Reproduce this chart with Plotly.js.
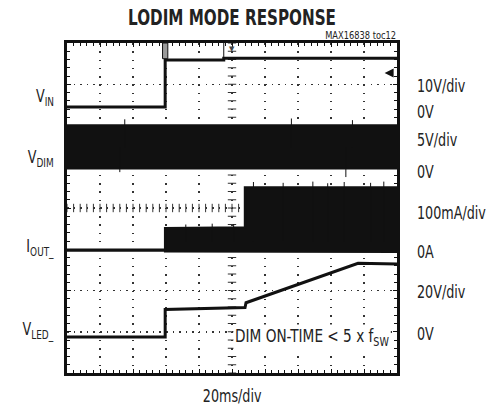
<!DOCTYPE html>
<html><head><meta charset="utf-8">
<script src="https://cdn.plot.ly/plotly-3.0.1.min.js"></script>
<style>
html,body{margin:0;padding:0;background:#fff}
#chart{width:489px;height:410px}
</style>
</head><body><div id="chart"></div>
<script>
// ---- data (time in ms, 20 ms/div) ----
const timeRange = [0, 200];
const trigT = 59.5;            // trigger instant (ms)
const trigLevelV = 9.2;        // VIN trigger level (V)

// VIN (V)
const vinT = [0, 59.5, 59.5, 95, 95, 200];
const vinV = [1.0, 1.0, 12.4, 12.4, 12.8, 12.8];

// VDIM switching band (V)
const vdimT = [0, 200];
const vdimHi = [5.15, 5.15];
const vdimLo = [-0.05, -0.05];
const vdimSpikeT = [35, 136, 173, 32, 169];
const vdimSpikeV = [5.9, 6.0, 5.8, -0.5, -1.1];

// IOUT_ (mA)
const ioutT = [0, 59.5, 59.5, 107.9, 107.9, 200];
const ioutHi = [1, 1, 53, 55, 152, 152];
const ioutLo = [-1, -1, -3, -3, -4, -4];
const ioutSpikeT = [72, 88, 101, 113, 131, 149, 158, 168, 184, 192];
const ioutSpikeV = [62, 64, 63, 165, 163, 166, 162, 165, 163, 166];

// VLED_ (V)
const vledT = [0, 59.5, 59.5, 107.9, 108.5, 176.4, 200];
const vledV = [0, 0, 13.3, 14.3, 16.6, 35.7, 35.4];

// ---- channel display settings (screen divisions) ----
const CH = {
  vin:  {zero: 6.35, perDiv: 10},
  vdim: {zero: 4.97, perDiv: 5},
  iout: {zero: 2.98, perDiv: 100},
  vled: {zero: 0.873, perDiv: 20}
};
const toDiv = (ch, arr) => arr.map(v => CH[ch].zero + v / CH[ch].perDiv);

function spikes(ch, ts, vs, baseV) {
  const x = [], y = [];
  ts.forEach((t, i) => { x.push(t, t, null); y.push(CH[ch].zero + baseV / CH[ch].perDiv, CH[ch].zero + vs[i] / CH[ch].perDiv, null); });
  return {x, y};
}

const ink = '#111';
const FONT = '"DejaVu Sans", sans-serif';

// crosshair tick marks (graticule)
const hx = [], hy = [];
for (let t = 0; t <= 200; t += 4) { hx.push(t); hy.push(4); }
const vx = [], vy = [];
for (let d = 0; d <= 8.001; d += 0.2) { vx.push(100); vy.push(+d.toFixed(2)); }

const traces = [];
traces.push({x: hx, y: hy, mode: 'markers', hoverinfo: 'skip',
  marker: {symbol: 'line-ns', size: 6, line: {width: 1, color: '#333'}}});
traces.push({x: vx, y: vy, mode: 'markers', hoverinfo: 'skip',
  marker: {symbol: 'line-ew', size: 6, line: {width: 1, color: '#333'}}});

// VDIM band
traces.push({x: vdimT, y: toDiv('vdim', vdimLo), mode: 'lines', line: {color: ink, width: 2}});
traces.push({x: vdimT, y: toDiv('vdim', vdimHi), mode: 'lines', line: {color: ink, width: 2.5}, fill: 'tonexty', fillcolor: ink});
const vs = spikes('vdim', vdimSpikeT, vdimSpikeV, 2.5);
traces.push({x: vs.x, y: vs.y, mode: 'lines', line: {color: ink, width: 1}, connectgaps: false});

// IOUT band
traces.push({x: ioutT, y: toDiv('iout', ioutLo), mode: 'lines', line: {color: ink, width: 2.5}});
traces.push({x: ioutT, y: toDiv('iout', ioutHi), mode: 'lines', line: {color: ink, width: 2.5}, fill: 'tonexty', fillcolor: ink});
const is = spikes('iout', ioutSpikeT, ioutSpikeV, 20);
traces.push({x: is.x, y: is.y, mode: 'lines', line: {color: ink, width: 1}, connectgaps: false});

// VIN
traces.push({x: vinT, y: toDiv('vin', vinV), mode: 'lines', line: {color: ink, width: 3}});
// VLED
traces.push({x: vledT, y: toDiv('vled', vledV), mode: 'lines', line: {color: ink, width: 3}});

const px = p => (p - 67) / 330;      // paper x from pixel
const py = p => (373 - p) / 330;     // paper y from pixel

const ann = [];
function lab(text, x, y, anchor, size) {
  ann.push({text, xref: 'paper', yref: 'paper', x, y, xanchor: anchor, yanchor: 'middle', align: anchor,
    showarrow: false, font: {family: FONT, size: size || 17, color: '#222'}});
}
lab('V<sub>IN</sub>', px(56), py(97), 'right');
lab('V<sub>DIM</sub>', px(56), py(158), 'right');
lab('I<sub>OUT_</sub>', px(56), py(247), 'right');
lab('V<sub>LED_</sub>', px(56), py(330), 'right');
lab('10V/div', px(415), py(86), 'left');
lab('0V', px(415), py(112), 'left');
lab('5V/div', px(415), py(140), 'left');
lab('0V', px(415), py(172), 'left');
lab('100mA/div', px(415), py(213), 'left');
lab('0A', px(415), py(252), 'left');
lab('20V/div', px(415), py(292), 'left');
lab('0V', px(415), py(334), 'left');
lab('20ms/div', 0.5, py(396), 'center');
lab('MAX16838 toc12', px(398), py(36), 'right', 11);
ann.push({text: 'DIM ON-TIME &lt; 5 x f<sub>SW</sub>', xref: 'x', yref: 'y', x: 100.6, y: 0.87,
  xanchor: 'left', yanchor: 'middle', align: 'left', showarrow: false, bgcolor: '#fff', borderpad: 1,
  font: {family: FONT, size: 17, color: '#222'}});
// trigger position marker
ann.push({text: '▼', xref: 'x', yref: 'paper', x: 100, y: 1, yanchor: 'top', showarrow: false,
  font: {size: 7, color: '#444'}});
// trigger level arrow
ann.push({x: 192.5, y: CH.vin.zero + trigLevelV / CH.vin.perDiv, xref: 'x', yref: 'y',
  ax: 8, ay: 0, showarrow: true, arrowhead: 2, arrowsize: 0.9, arrowwidth: 2, arrowcolor: ink, text: ''});

const shapes = [
  {type: 'rect', xref: 'x', yref: 'y', x0: trigT - 1.6, x1: trigT + 1.6, y0: 7.62, y1: 8,
   fillcolor: '#999', line: {color: ink, width: 1}},
  {type: 'line', xref: 'x', yref: 'y', x0: 95, x1: 95, y0: 7.64, y1: 8, line: {color: ink, width: 1}}
];

const layout = {
  width: 489, height: 410,
  margin: {l: 67, r: 92, t: 43, b: 37},
  paper_bgcolor: '#fff', plot_bgcolor: '#fff',
  showlegend: false,
  font: {family: FONT, color: '#222'},
  title: {text: 'LODIM MODE RESPONSE', x: 232 / 489, xanchor: 'center', y: 1 - 17 / 410, yanchor: 'middle',
    font: {family: FONT, size: 22, color: '#222', weight: 'bold'}},
  xaxis: {range: timeRange, dtick: 20, tick0: 0, showticklabels: false, zeroline: false,
    showgrid: true, gridcolor: '#333', gridwidth: 1.5, griddash: '1.5px,6.75px',
    showline: true, linecolor: ink, linewidth: 3, mirror: 'ticks',
    ticks: 'inside', ticklen: 4, tickcolor: ink, tickwidth: 1,
    minor: {dtick: 4, ticks: 'inside', ticklen: 3, tickcolor: ink, tickwidth: 1, showgrid: false},
    fixedrange: true},
  yaxis: {range: [0, 8], dtick: 1, tick0: 0, showticklabels: false, zeroline: false,
    showgrid: true, gridcolor: '#333', gridwidth: 1.5, griddash: '1.5px,5.1px',
    showline: true, linecolor: ink, linewidth: 3, mirror: 'ticks',
    ticks: 'inside', ticklen: 4, tickcolor: ink, tickwidth: 1,
    minor: {dtick: 0.2, ticks: 'inside', ticklen: 3, tickcolor: ink, tickwidth: 1, showgrid: false},
    fixedrange: true},
  annotations: ann,
  shapes: shapes
};

// narrow the lettering (horizontal scale around its anchor) to resemble the condensed typeface
function condense(el, factor, target) {
  const w = el.getComputedTextLength();
  if (!w) return 0;
  const f = target ? target / w : factor;
  const anchor = el.getAttribute('text-anchor') || el.style.textAnchor || 'start';
  const x = parseFloat(el.getAttribute('x')) || 0;
  const bb = el.getBBox();
  let ox = x;
  if (anchor === 'middle') ox = bb.x + bb.width / 2;
  else if (anchor === 'end') ox = bb.x + bb.width;
  else ox = bb.x;
  const prev = el.getAttribute('transform') || '';
  el.setAttribute('transform', (prev + ` translate(${(ox * (1 - f)).toFixed(2)},0) scale(${f.toFixed(4)},1)`).trim());
  return w * (1 - f);
}

Plotly.newPlot('chart', traces, layout, {staticPlot: true, displayModeBar: false}).then(gd => {
  gd.querySelectorAll('text.annotation-text').forEach(t => {
    const txt = t.textContent;
    if (txt === '▼' || txt === '') return;
    let d;
    if (txt.indexOf('MAX16838') === 0) d = condense(t, 0, 71);
    else if (txt.indexOf('DIM ON') === 0) d = condense(t, 0, 154);
    else d = condense(t, 0.75);
    const bg = t.parentNode.querySelector('rect.bg');
    if (bg && txt.indexOf('DIM ON') === 0) {
      const bw = parseFloat(bg.getAttribute('width'));
      bg.setAttribute('width', (bw - d).toFixed(1));
    }
  });
  const title = gd.querySelector('text.gtitle');
  if (title) condense(title, 0, 208);
});
</script>
</body></html>
